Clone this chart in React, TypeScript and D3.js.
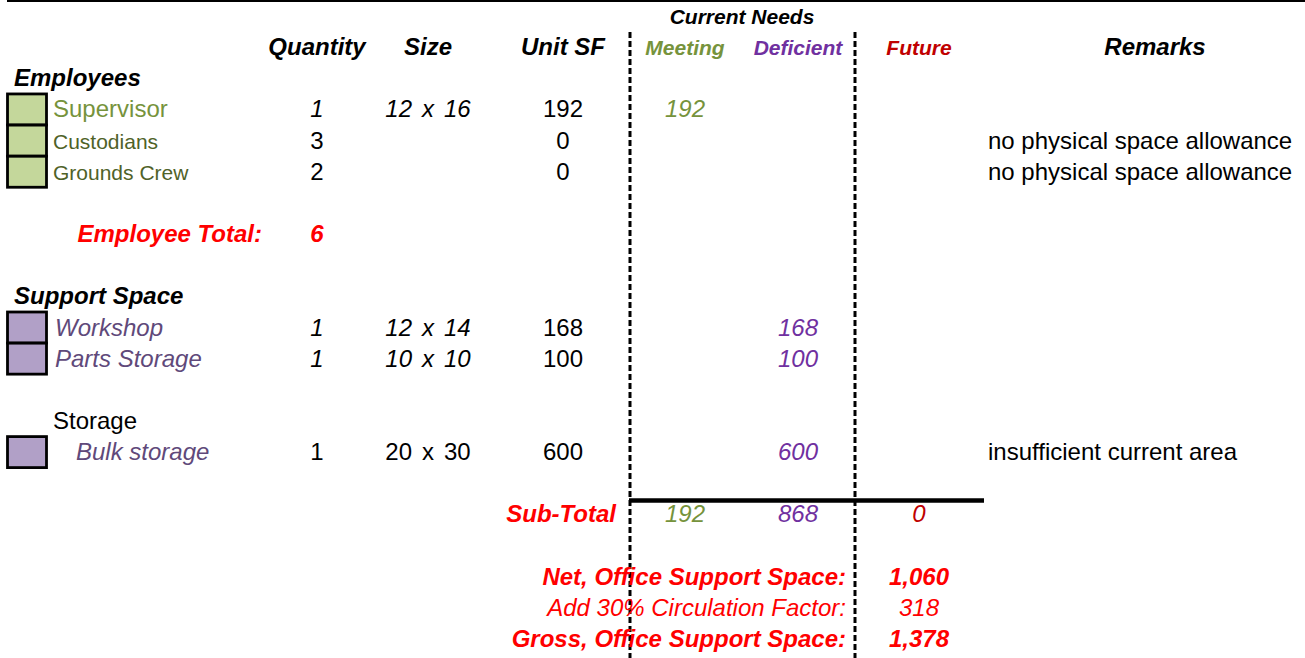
import React from "react";
import * as d3 from "d3";

// ---------- data ----------
const headers = ["Quantity", "Size", "Unit SF", "Meeting", "Deficient", "Future", "Remarks"];
const groupTitle = "Current Needs";

const employeeNames = ["Supervisor", "Custodians", "Grounds Crew"];
const employeeQty = [1, 3, 2];
const employeeSize: ([number, number] | null)[] = [[12, 16], null, null];
const employeeUnitSF = [192, 0, 0];
const employeeMeeting: (number | null)[] = [192, null, null];
const employeeRemarks = ["", "no physical space allowance", "no physical space allowance"];

const supportNames = ["Workshop", "Parts Storage"];
const supportQty = [1, 1];
const supportSize: [number, number][] = [[12, 14], [10, 10]];
const supportUnitSF = [168, 100];
const supportDeficient = [168, 100];

const storageNames = ["Bulk storage"];
const storageQty = [1];
const storageSize: [number, number][] = [[20, 30]];
const storageUnitSF = [600];
const storageDeficient = [600];
const storageRemarks = ["insufficient current area"];

const subTotals = { meeting: 192, deficient: 868, future: 0 };
const employeeTotal = 6;
const netSpace = 1060;
const circulationPct = 30;
const circulation = 318;
const grossSpace = 1378;

// ---------- layout ----------
const W = 1305;
const H = 658;
const FONT = "'Liberation Sans', Arial, Helvetica, sans-serif";
const y = d3.scaleLinear().domain([0, 20]).range([24, 647]);
const col = {
  swatchX: 7.5,
  swatchW: 39,
  section: 14,
  name: 53,
  qty: 317,
  sizeMid: 428,
  unit: 563,
  div1: 630,
  meeting: 685,
  deficient: 798,
  div2: 855,
  future: 919,
  remarksHead: 1155,
  remarks: 988,
  groupTitle: 742,
};
const C = {
  greenFill: "#C4D79B",
  purpleFill: "#B1A0C7",
  green: "#76933C",
  darkGreen: "#4F6228",
  purpleText: "#60497A",
  purple: "#7030A0",
  darkRed: "#C00000",
  red: "#FF0000",
};
const fmt = d3.format(",");

function T(props: any) {
  const { children, ...rest } = props;
  return (
    <text fontFamily={FONT} fontSize={24} fill="#000" style={{ whiteSpace: "pre" }} {...rest}>
      {children}
    </text>
  );
}

function SizeCell({ size, row, italic }: { size: [number, number]; row: number; italic: boolean }) {
  const fs = italic ? "italic" : "normal";
  return (
    <g>
      <T x={col.sizeMid - 16} y={y(row)} textAnchor="end" fontStyle={fs}>{size[0]}</T>
      <T x={col.sizeMid} y={y(row)} textAnchor="middle" fontStyle={fs}>x</T>
      <T x={col.sizeMid + 16} y={y(row)} textAnchor="start" fontStyle={fs}>{size[1]}</T>
    </g>
  );
}

function Swatch({ row, fill }: { row: number; fill: string }) {
  return (
    <rect
      x={col.swatchX}
      y={y(row) - 8 - 15.5}
      width={col.swatchW}
      height={31}
      fill={fill}
      stroke="#000"
      strokeWidth={2.8}
    />
  );
}

export default function App() {
  const empRows = [3, 4, 5];
  const supRows = [10, 11];
  const stoRows = [14];
  const headerX = [col.qty, col.sizeMid, col.unit, col.meeting, col.deficient, col.future, col.remarksHead];
  const headerColor = ["#000", "#000", "#000", C.green, C.purple, C.darkRed, "#000"];
  const headerSize = [24, 24, 24, 21, 21, 21, 24];

  return (
    <div style={{ position: "fixed", left: 0, top: 0, width: W, height: H, background: "#fff" }}>
      <svg width={W} height={H} viewBox={`0 0 ${W} ${H}`} style={{ display: "block" }}>
        <rect width={W} height={H} fill="#fff" />
        {/* top rule */}
        <line x1={7} x2={W} y1={1} y2={1} stroke="#000" strokeWidth={2.2} />

        {/* dashed dividers */}
        {[col.div1, col.div2].map((x) => (
          <line key={x} x1={x} x2={x} y1={32} y2={H} stroke="#000" strokeWidth={3} strokeDasharray="6,3" />
        ))}
        {/* subtotal rule */}
        <line x1={629} x2={984} y1={500.5} y2={500.5} stroke="#000" strokeWidth={4.6} />

        {/* group title */}
        <T x={col.groupTitle} y={y(0)} textAnchor="middle" fontWeight="bold" fontStyle="italic" fontSize={21}>
          {groupTitle}
        </T>
        {headers.map((h, i) => (
          <T key={h} x={headerX[i]} y={y(1)} textAnchor="middle" fontWeight="bold" fontStyle="italic"
            fontSize={headerSize[i]} fill={headerColor[i]}>
            {h}
          </T>
        ))}

        {/* Employees */}
        <T x={col.section} y={y(2)} fontWeight="bold" fontStyle="italic">Employees</T>
        {employeeNames.map((n, i) => {
          const r = empRows[i];
          const first = i === 0;
          return (
            <g key={n}>
              <Swatch row={r} fill={C.greenFill} />
              <T x={col.name} y={y(r)} fontSize={first ? 24 : 21} fill={first ? C.green : C.darkGreen}>{n}</T>
              <T x={col.qty} y={y(r)} textAnchor="middle" fontStyle={first ? "italic" : "normal"}>{employeeQty[i]}</T>
              {employeeSize[i] && <SizeCell size={employeeSize[i] as [number, number]} row={r} italic={true} />}
              <T x={col.unit} y={y(r)} textAnchor="middle">{employeeUnitSF[i]}</T>
              {employeeMeeting[i] != null && (
                <T x={col.meeting} y={y(r)} textAnchor="middle" fontStyle="italic" fill={C.green}>
                  {fmt(employeeMeeting[i] as number)}
                </T>
              )}
              {employeeRemarks[i] && <T x={col.remarks} y={y(r)}>{employeeRemarks[i]}</T>}
            </g>
          );
        })}
        <T x={262} y={y(7)} textAnchor="end" fontWeight="bold" fontStyle="italic" fill={C.red}>Employee Total:</T>
        <T x={col.qty} y={y(7)} textAnchor="middle" fontWeight="bold" fontStyle="italic" fill={C.red}>{employeeTotal}</T>

        {/* Support Space */}
        <T x={col.section} y={y(9)} fontWeight="bold" fontStyle="italic">Support Space</T>
        {supportNames.map((n, i) => {
          const r = supRows[i];
          return (
            <g key={n}>
              <Swatch row={r} fill={C.purpleFill} />
              <T x={col.name + 2} y={y(r)} fontStyle="italic" fill={C.purpleText}>{n}</T>
              <T x={col.qty} y={y(r)} textAnchor="middle" fontStyle="italic">{supportQty[i]}</T>
              <SizeCell size={supportSize[i]} row={r} italic={true} />
              <T x={col.unit} y={y(r)} textAnchor="middle">{supportUnitSF[i]}</T>
              <T x={col.deficient} y={y(r)} textAnchor="middle" fontStyle="italic" fill={C.purple}>{fmt(supportDeficient[i])}</T>
            </g>
          );
        })}

        {/* Storage */}
        <T x={col.name} y={y(13)}>Storage</T>
        {storageNames.map((n, i) => {
          const r = stoRows[i];
          return (
            <g key={n}>
              <Swatch row={r} fill={C.purpleFill} />
              <T x={76} y={y(r)} fontStyle="italic" fill={C.purpleText}>{n}</T>
              <T x={col.qty} y={y(r)} textAnchor="middle">{storageQty[i]}</T>
              <SizeCell size={storageSize[i]} row={r} italic={false} />
              <T x={col.unit} y={y(r)} textAnchor="middle">{storageUnitSF[i]}</T>
              <T x={col.deficient} y={y(r)} textAnchor="middle" fontStyle="italic" fill={C.purple}>{fmt(storageDeficient[i])}</T>
              <T x={col.remarks} y={y(r)}>{storageRemarks[i]}</T>
            </g>
          );
        })}

        {/* Sub-total */}
        <T x={616} y={y(16)} textAnchor="end" fontWeight="bold" fontStyle="italic" fill={C.red}>Sub-Total</T>
        <T x={col.meeting} y={y(16)} textAnchor="middle" fontStyle="italic" fill={C.green}>{fmt(subTotals.meeting)}</T>
        <T x={col.deficient} y={y(16)} textAnchor="middle" fontStyle="italic" fill={C.purple}>{fmt(subTotals.deficient)}</T>
        <T x={col.future} y={y(16)} textAnchor="middle" fontStyle="italic" fill={C.darkRed}>{fmt(subTotals.future)}</T>

        {/* Totals */}
        <T x={846} y={y(18)} textAnchor="end" fontWeight="bold" fontStyle="italic" fill={C.red}>Net, Office Support Space:</T>
        <T x={col.future} y={y(18)} textAnchor="middle" fontWeight="bold" fontStyle="italic" fill={C.red}>{fmt(netSpace)}</T>
        <T x={846} y={y(19)} textAnchor="end" fontStyle="italic" fill={C.red}>{`Add ${circulationPct}% Circulation Factor:`}</T>
        <T x={col.future} y={y(19)} textAnchor="middle" fontStyle="italic" fill={C.red}>{fmt(circulation)}</T>
        <T x={846} y={y(20)} textAnchor="end" fontWeight="bold" fontStyle="italic" fill={C.red}>Gross, Office Support Space:</T>
        <T x={col.future} y={y(20)} textAnchor="middle" fontWeight="bold" fontStyle="italic" fill={C.red}>{fmt(grossSpace)}</T>
      </svg>
    </div>
  );
}
